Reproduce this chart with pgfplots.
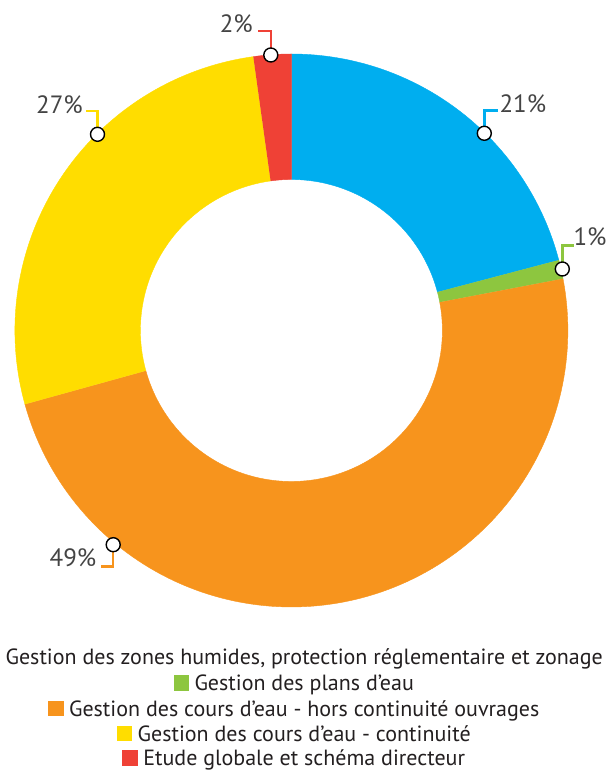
\documentclass[border=0pt]{standalone}
\usepackage{fontspec}
\setmainfont{PT Sans}
\usepackage{pgfplots}
\pgfplotsset{compat=1.18}
\definecolor{cBlue}{HTML}{00AEEF}
\definecolor{cGreen}{HTML}{8DC63F}
\definecolor{cOrange}{HTML}{F7941D}
\definecolor{cYellow}{HTML}{FFDD00}
\definecolor{cRed}{HTML}{EF4136}
\definecolor{txt}{HTML}{231F20}
\definecolor{lbl}{HTML}{444444}

\newcommand\cx{291.4}
\newcommand\cy{-330.5}
\newcommand\Ro{276.5}
\newcommand\Ri{151}
% donut segment: colour, cumulative start (%), cumulative end (%)
% parameter t = 0..120 runs along the outer arc, t = 121..241 back along the inner arc
\newcommand\seg[3]{%
 \addplot[fill=#1, draw=#1, line width=0.4pt, domain=0:241, samples=242, variable=\t]
 ({\cx + ((\t<120.5) ? \Ro*cos(90-3.6*(#2+(#3-#2)*\t/120)) : \Ri*cos(90-3.6*(#2+(#3-#2)*(241-\t)/120)))},
  {\cy + ((\t<120.5) ? \Ro*sin(90-3.6*(#2+(#3-#2)*\t/120)) : \Ri*sin(90-3.6*(#2+(#3-#2)*(241-\t)/120)))});
}
\newcommand\legsq[1]{\textcolor{#1}{\rule{15.7pt}{15.7pt}}\hspace{5.3pt}}

\begin{document}
\begin{tikzpicture}
\begin{axis}[hide axis, scale only axis, width=614pt, height=771pt,
  xmin=0, xmax=614, ymin=-771, ymax=0, clip=false]
% values: 20.9, 1.1, 48.7, 27.1, 2.2 (cumulative below)
\seg{cBlue}{0}{20.9}
\seg{cGreen}{20.9}{22.0}
\seg{cOrange}{22.0}{70.7}
\seg{cYellow}{70.7}{97.8}
\seg{cRed}{97.8}{100}
% leader lines
\addplot[cBlue, line width=2.5pt, mark=none] coordinates {(484.3,-133.3) (484.3,-110.7) (497.5,-110.7)};
\addplot[cGreen, line width=2.5pt, mark=none] coordinates {(562.3,-269) (562.3,-245.7) (574.3,-245.7)};
\addplot[cRed, line width=2.5pt, mark=none] coordinates {(270.8,-55) (270.8,-31) (257.7,-31)};
\addplot[cYellow, line width=2.5pt, mark=none] coordinates {(97.5,-134.3) (97.5,-111) (85.7,-111)};
\addplot[cOrange, line width=2.5pt, mark=none] coordinates {(113.2,-544.7) (113.2,-566.7) (100.7,-566.7)};
% anchor circles
\addplot[only marks, mark=*, mark size=7pt, mark options={fill=white, draw=black, line width=1.4pt}]
  coordinates {(484.3,-133.3) (562.3,-269) (270.8,-55) (97.5,-134.3) (113.2,-544.7)};
% percentage labels
\tikzset{pct/.style={lbl, inner sep=0pt, font=\fontsize{25}{30}\selectfont},
         leg/.style={txt, inner sep=0pt, anchor=base, font=\fontsize{22}{26}\selectfont}}
\node[pct, anchor=base west] at (axis cs:499.3,-112.3) {21\%};
\node[pct, anchor=base west] at (axis cs:573.3,-246) {1\%};
\node[pct, anchor=base east] at (axis cs:253,-32.3) {2\%};
\node[pct, anchor=base east] at (axis cs:83,-113.3) {27\%};
\node[pct, anchor=base east] at (axis cs:96.5,-566.7) {49\%};
% legend
\node[leg] at (axis cs:293.7,-665) {\legsq{cBlue}Gestion des zones humides, protection réglementaire et zonage};
\node[leg] at (axis cs:293.7,-690.7) {\legsq{cGreen}Gestion des plans d’eau};
\node[leg] at (axis cs:293.7,-716.3) {\legsq{cOrange}Gestion des cours d’eau - hors continuité ouvrages};
\node[leg] at (axis cs:293.7,-741.5) {\legsq{cYellow}Gestion des cours d’eau - continuité};
\node[leg] at (axis cs:293.7,-766) {\legsq{cRed}Etude globale et schéma directeur};
\end{axis}
\pgfresetboundingbox
\path[use as bounding box] (0,0) rectangle (614pt,771pt);
\end{tikzpicture}
\end{document}
